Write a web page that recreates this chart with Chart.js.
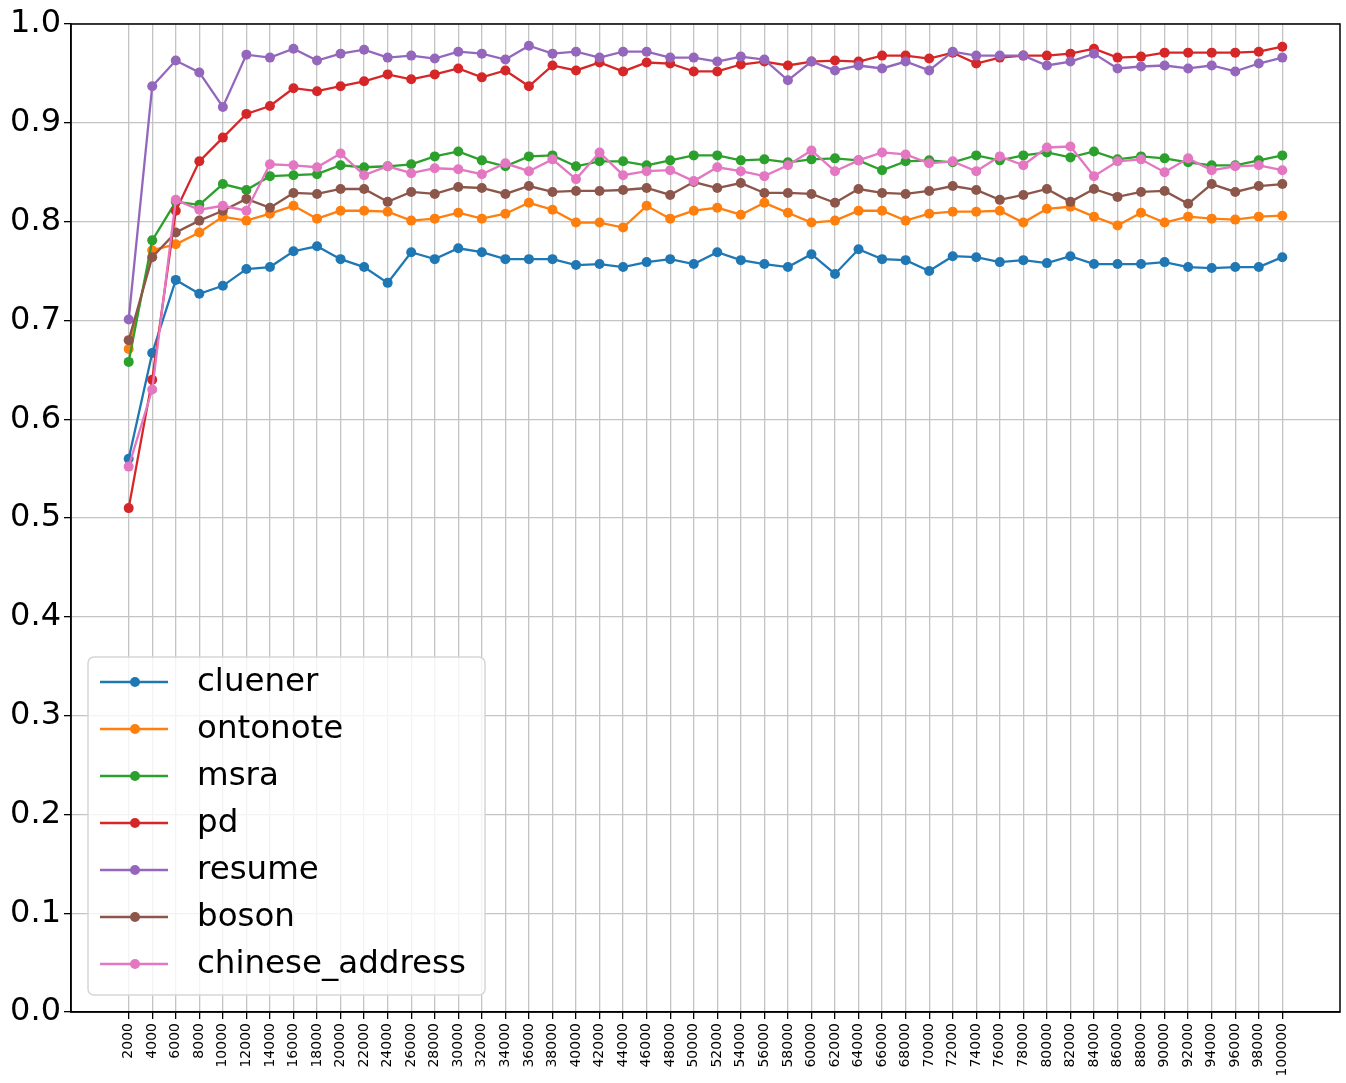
<!DOCTYPE html>
<html>
<head>
<meta charset="utf-8">
<script src="https://cdn.jsdelivr.net/npm/chart.js@4/dist/chart.umd.min.js"></script>
<style>
html,body{margin:0;padding:0;background:#fff;}
#wrap{width:1346px;height:1083px;}
</style>
</head>
<body>
<div id="wrap"><canvas id="c" width="1346" height="1083"></canvas></div>
<script>
const sizes = [2000,4000,6000,8000,10000,12000,14000,16000,18000,20000,22000,24000,26000,28000,30000,32000,34000,36000,38000,40000,42000,44000,46000,48000,50000,52000,54000,56000,58000,60000,62000,64000,66000,68000,70000,72000,74000,76000,78000,80000,82000,84000,86000,88000,90000,92000,94000,96000,98000,100000];
const yTicks = [0,0.1,0.2,0.3,0.4,0.5,0.6,0.7,0.8,0.9,1.0];
const seriesNames = ['cluener','ontonote','msra','pd','resume','boson','chinese_address'];
const seriesColors = ['#1f77b4','#ff7f0e','#2ca02c','#d62728','#9467bd','#8c564b','#e377c2'];

const cluener = [0.560,0.667,0.741,0.727,0.735,0.752,0.754,0.770,0.775,0.762,
  0.754,0.738,0.769,0.762,0.773,0.769,0.762,0.762,0.762,0.756,
  0.757,0.754,0.759,0.762,0.757,0.769,0.761,0.757,0.754,0.767,
  0.747,0.772,0.762,0.761,0.750,0.765,0.764,0.759,0.761,0.758,
  0.765,0.757,0.757,0.757,0.759,0.754,0.753,0.754,0.754,0.764];
const ontonote = [0.671,0.771,0.777,0.789,0.805,0.801,0.808,0.816,0.803,0.811,
  0.811,0.810,0.801,0.803,0.809,0.803,0.808,0.819,0.812,0.799,
  0.799,0.794,0.816,0.803,0.811,0.814,0.807,0.819,0.809,0.799,
  0.801,0.811,0.811,0.801,0.808,0.810,0.810,0.811,0.799,0.813,
  0.815,0.805,0.796,0.809,0.799,0.805,0.803,0.802,0.805,0.806];
const msra = [0.658,0.781,0.820,0.817,0.838,0.832,0.846,0.847,0.848,0.857,
  0.855,0.856,0.858,0.866,0.871,0.862,0.856,0.866,0.867,0.856,
  0.861,0.861,0.857,0.862,0.867,0.867,0.862,0.863,0.860,0.863,
  0.864,0.862,0.852,0.861,0.862,0.860,0.867,0.862,0.867,0.870,
  0.865,0.871,0.863,0.866,0.864,0.860,0.857,0.857,0.862,0.867];
const pd = [0.510,0.640,0.811,0.861,0.885,0.909,0.917,0.935,0.932,0.937,
  0.942,0.949,0.944,0.949,0.955,0.946,0.953,0.937,0.958,0.953,
  0.961,0.952,0.961,0.960,0.952,0.952,0.959,0.962,0.958,0.962,
  0.963,0.962,0.968,0.968,0.965,0.971,0.960,0.966,0.968,0.968,
  0.970,0.975,0.966,0.967,0.971,0.971,0.971,0.971,0.972,0.977];
const resume = [0.701,0.937,0.963,0.951,0.916,0.969,0.966,0.975,0.963,0.970,
  0.974,0.966,0.968,0.965,0.972,0.970,0.964,0.978,0.970,0.972,
  0.966,0.972,0.972,0.966,0.966,0.962,0.967,0.964,0.943,0.962,
  0.953,0.958,0.955,0.962,0.953,0.972,0.968,0.968,0.968,0.958,
  0.962,0.970,0.955,0.957,0.958,0.955,0.958,0.952,0.960,0.966];
const boson = [0.680,0.764,0.789,0.801,0.811,0.823,0.814,0.829,0.828,0.833,
  0.833,0.820,0.830,0.828,0.835,0.834,0.828,0.836,0.830,0.831,
  0.831,0.832,0.834,0.827,0.840,0.834,0.839,0.829,0.829,0.828,
  0.819,0.833,0.829,0.828,0.831,0.836,0.832,0.822,0.827,0.833,
  0.820,0.833,0.825,0.830,0.831,0.818,0.838,0.830,0.836,0.838];
const chinese_address = [0.552,0.630,0.822,0.812,0.816,0.811,0.858,0.857,0.855,0.869,
  0.847,0.856,0.849,0.854,0.853,0.848,0.859,0.851,0.863,0.843,
  0.870,0.847,0.851,0.852,0.841,0.855,0.851,0.846,0.857,0.872,
  0.851,0.862,0.870,0.868,0.859,0.861,0.851,0.866,0.857,0.875,
  0.876,0.846,0.861,0.863,0.850,0.864,0.852,0.856,0.857,0.852];

const seriesValues = [cluener, ontonote, msra, pd, resume, boson, chinese_address];

const FONT = "'DejaVu Sans', sans-serif";

const datasets = seriesNames.map((name, i) => ({
  label: name,
  data: sizes.map((s, j) => ({x: s, y: seriesValues[i][j]})),
  borderColor: seriesColors[i],
  backgroundColor: seriesColors[i],
  pointBackgroundColor: seriesColors[i],
  pointBorderColor: seriesColors[i],
  pointBorderWidth: 0,
  pointRadius: 5,
  borderWidth: 2.3,
  tension: 0,
  order: seriesNames.length - i
}));

const xSpan = sizes[sizes.length - 1] - sizes[0];
const xMargin = xSpan * 0.05;

const framePlugin = {
  id: 'frameLegend',
  afterDraw(chart) {
    const ctx = chart.ctx;
    const ca = chart.chartArea;
    ctx.save();
    ctx.strokeStyle = '#000';
    ctx.lineWidth = 1.5;
    ctx.strokeRect(ca.left, ca.top, ca.right - ca.left, ca.bottom - ca.top);

    // legend box
    const bx = ca.left + 17, bw = 397, bh = 338;
    const by = ca.bottom - 17 - bh;
    const r = 6;
    ctx.beginPath();
    ctx.moveTo(bx + r, by);
    ctx.lineTo(bx + bw - r, by);
    ctx.arcTo(bx + bw, by, bx + bw, by + r, r);
    ctx.lineTo(bx + bw, by + bh - r);
    ctx.arcTo(bx + bw, by + bh, bx + bw - r, by + bh, r);
    ctx.lineTo(bx + r, by + bh);
    ctx.arcTo(bx, by + bh, bx, by + bh - r, r);
    ctx.lineTo(bx, by + r);
    ctx.arcTo(bx, by, bx + r, by, r);
    ctx.closePath();
    ctx.fillStyle = 'rgba(255,255,255,0.8)';
    ctx.fill();
    ctx.strokeStyle = '#d6d6d6';
    ctx.lineWidth = 1.5;
    ctx.stroke();

    chart.data.datasets.forEach((ds, i) => {
      const cy = by + 25 + 47 * i;
      ctx.strokeStyle = ds.borderColor;
      ctx.lineWidth = 2.3;
      ctx.beginPath();
      ctx.moveTo(bx + 12, cy);
      ctx.lineTo(bx + 80, cy);
      ctx.stroke();
      ctx.fillStyle = ds.borderColor;
      ctx.beginPath();
      ctx.arc(bx + 47, cy, 5, 0, Math.PI * 2);
      ctx.fill();
      ctx.fillStyle = '#000';
      ctx.font = '32.5px ' + FONT;
      ctx.textBaseline = 'middle';
      ctx.textAlign = 'left';
      ctx.fillText(ds.label, bx + 109, cy + 1);
    });
    ctx.restore();
  }
};

new Chart(document.getElementById('c'), {
  type: 'line',
  data: { datasets },
  options: {
    responsive: false,
    animation: false,
    layout: { padding: { left: 0, right: 6, top: 24, bottom: 0 } },
    plugins: { legend: { display: false }, tooltip: { enabled: false } },
    scales: {
      x: {
        type: 'linear',
        min: sizes[0] - xMargin,
        max: sizes[sizes.length - 1] + xMargin,
        afterBuildTicks: (scale) => { scale.ticks = sizes.map(v => ({ value: v })); },
        afterFit: (scale) => { scale.height = 71; },
        ticks: {
          autoSkip: false,
          maxRotation: 90,
          minRotation: 90,
          padding: 4,
          color: '#000',
          font: { family: FONT, size: 14 },
          callback: (v) => String(v)
        },
        grid: { color: '#c4c4c4', lineWidth: 1.3, tickColor: '#000', tickLength: 7, drawTicks: true },
        border: { display: true, color: '#000', width: 1.5 }
      },
      y: {
        min: 0,
        max: 1.0,
        afterBuildTicks: (scale) => { scale.ticks = yTicks.map(v => ({ value: v })); },
        afterFit: (scale) => { scale.width = 71; },
        ticks: {
          color: '#000',
          padding: 3,
          font: { family: FONT, size: 32 },
          callback: (v) => Number(v).toFixed(1)
        },
        grid: { color: '#c4c4c4', lineWidth: 1.3, tickColor: '#000', tickLength: 7, drawTicks: true },
        border: { display: true, color: '#000', width: 1.5 }
      }
    }
  },
  plugins: [framePlugin]
});
</script>
</body>
</html>
